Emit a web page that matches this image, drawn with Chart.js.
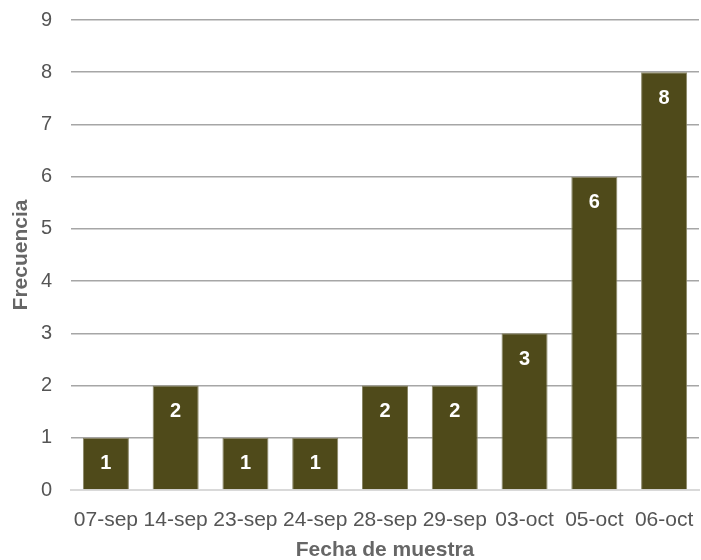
<!DOCTYPE html>
<html>
<head>
<meta charset="utf-8">
<script src="https://cdn.jsdelivr.net/npm/chart.js@4.4.0/dist/chart.umd.min.js"></script>
<style>
  html, body { margin: 0; padding: 0; background: #fff; }
  canvas { display: block; }
</style>
</head>
<body>
<canvas id="chart" width="701" height="560"></canvas>
<script>
const fechas = ['07-sep', '14-sep', '23-sep', '24-sep', '28-sep', '29-sep', '03-oct', '05-oct', '06-oct'];
const frecuencia = [1, 2, 1, 1, 2, 2, 3, 6, 8];
const yTicks = [0, 1, 2, 3, 4, 5, 6, 7, 8, 9];

const fontFamily = '"Liberation Sans", Arial, Helvetica, sans-serif';

// white value labels inside the top of each bar
const barLabels = {
  id: 'barLabels',
  afterDatasetsDraw(chart) {
    const ctx = chart.ctx;
    const meta = chart.getDatasetMeta(0);
    ctx.save();
    ctx.fillStyle = '#ffffff';
    ctx.font = 'bold 20px ' + fontFamily;
    ctx.textAlign = 'center';
    ctx.textBaseline = 'middle';
    meta.data.forEach((bar, i) => {
      ctx.fillText(String(frecuencia[i]), bar.x, bar.y + 26);
    });
    ctx.restore();
  }
};

const ctx = document.getElementById('chart').getContext('2d');

new Chart(ctx, {
  type: 'bar',
  data: {
    labels: fechas,
    datasets: [{
      label: 'Frecuencia',
      data: frecuencia,
      backgroundColor: '#4f4a1a',
      borderColor: '#8a8768',
      borderWidth: 1,
      categoryPercentage: 1.0,
      barPercentage: 0.66,
    }]
  },
  plugins: [barLabels],
  options: {
    responsive: false,
    animation: false,
    layout: {
      padding: { top: 20, right: 2, bottom: 0, left: 0 }
    },
    plugins: {
      legend: { display: false },
      tooltip: { enabled: false },
    },
    scales: {
      x: {
        grid: { display: false, drawTicks: false },
        border: { display: true, color: '#d9d9d9', width: 2 },
        ticks: {
          color: '#555555',
          font: { family: fontFamily, size: 21 },
          padding: 18,
          maxRotation: 0,
          autoSkip: false,
        },
        title: {
          display: true,
          text: 'Fecha de muestra',
          color: '#666666',
          font: { family: fontFamily, size: 21, weight: 'bold' },
          padding: { top: 5, bottom: -3 },
        },
        afterFit(scale) {
          scale.height = 70;
          scale.paddingLeft = 0;
          scale.paddingRight = 0;
        },
      },
      y: {
        min: 0,
        max: 9,
        afterBuildTicks(scale) {
          scale.ticks = yTicks.map(v => ({ value: v }));
        },
        grid: {
          color: (c) => c.tick && c.tick.value === 0 ? '#d9d9d9' : '#a6a6a6',
          lineWidth: 1.5,
          drawTicks: false,
        },
        border: { display: false },
        ticks: {
          color: '#555555',
          font: { family: fontFamily, size: 20 },
          padding: 19,
        },
        title: {
          display: true,
          text: 'Frecuencia',
          color: '#666666',
          font: { family: fontFamily, size: 21, weight: 'bold' },
          padding: { top: 9, bottom: 2 },
        },
        afterFit(scale) {
          scale.width = 71;
          scale.paddingTop = 0;
          scale.paddingBottom = 0;
        },
      }
    }
  }
});
</script>
</body>
</html>
